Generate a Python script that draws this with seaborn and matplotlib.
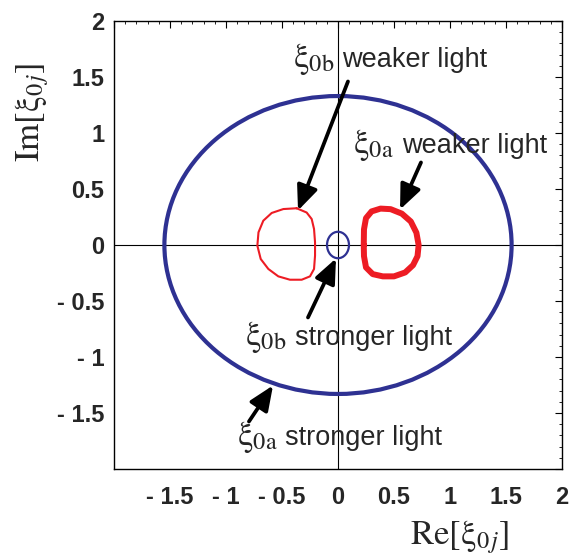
import matplotlib
matplotlib.use("Agg")
import matplotlib.pyplot as plt
from matplotlib.patches import Ellipse
from matplotlib.ticker import MultipleLocator
import pandas as pd
import seaborn as sns

# thin red contour (xi_0b, weaker light)
left_re = [-0.369, -0.28, -0.235, -0.214, -0.205, -0.205, -0.214, -0.25, -0.324,
           -0.429, -0.533, -0.622, -0.69, -0.72, -0.71, -0.667, -0.592, -0.488, -0.369]
left_im = [0.328, 0.29, 0.232, 0.143, 0.024, -0.095, -0.214, -0.28, -0.31,
           -0.31, -0.28, -0.214, -0.125, -0.006, 0.113, 0.217, 0.286, 0.321, 0.328]

# thick red contour (xi_0a, weaker light)
right_re = [0.23, 0.232, 0.25, 0.30, 0.38, 0.47, 0.57, 0.65, 0.70, 0.72,
            0.71, 0.67, 0.60, 0.50, 0.40, 0.31, 0.25, 0.232, 0.23]
right_im = [0.0, 0.14, 0.24, 0.30, 0.325, 0.32, 0.28, 0.21, 0.11, 0.0,
            -0.10, -0.18, -0.245, -0.28, -0.28, -0.26, -0.20, -0.10, 0.0]

# blue contours (stronger light) are ellipses around the origin: semi-axes
outer_semi = (1.55, 1.33)
inner_semi = (0.098, 0.118)

tick_vals = [-2, -1.5, -1, -0.5, 0, 0.5, 1, 1.5, 2]
tick_labels = ['', '- 1.5', '- 1', '- 0.5', '0', '0.5', '1', '1.5', '2']

BLUE = '#2E3192'
RED = '#ED1C24'

sns.set_style('white')
plt.rcParams['font.family'] = ['Liberation Sans', 'DejaVu Sans']
plt.rcParams['mathtext.fontset'] = 'stix'

fig = plt.figure(figsize=(5.71, 5.56), dpi=100)
ax = fig.add_axes([114 / 571, 87 / 556, 448 / 571, 448 / 556])

# coordinate axes
ax.axhline(0, color='black', lw=0.8, zorder=1)
ax.axvline(0, color='black', lw=0.8, zorder=1)

ax.add_patch(Ellipse((0, 0), 2 * outer_semi[0], 2 * outer_semi[1],
                     fill=False, ec=BLUE, lw=3.0, zorder=3))
ax.add_patch(Ellipse((0, 0), 2 * inner_semi[0], 2 * inner_semi[1],
                     fill=False, ec=BLUE, lw=1.6, zorder=3))

left_df = pd.DataFrame({'re': left_re, 'im': left_im})
right_df = pd.DataFrame({'re': right_re, 'im': right_im})
sns.lineplot(data=left_df, x='re', y='im', sort=False, estimator=None,
             color=RED, lw=1.5, solid_joinstyle='round', ax=ax, zorder=3)
sns.lineplot(data=right_df, x='re', y='im', sort=False, estimator=None,
             color=RED, lw=4.3, solid_joinstyle='round', ax=ax, zorder=3)

# annotations: symbol, symbol pos, text, text pos, arrow start, arrow tip
arrow_kw = dict(arrowstyle='-|>,head_length=0.75,head_width=0.32', lw=2.7,
                color='black', shrinkA=0, shrinkB=0, mutation_scale=20)
notes = [
    (r'$\mathrm{\xi_{0b}}$', (-0.40, 1.585), 'weaker light', (0.036, 1.585),
     (0.089, 1.46), (-0.357, 0.308)),
    (r'$\mathrm{\xi_{0a}}$', (0.134, 0.817), 'weaker light', (0.571, 0.817),
     (0.741, 0.737), (0.554, 0.317)),
    (r'$\mathrm{\xi_{0b}}$', (-0.83, -0.897), 'stronger light', (-0.384, -0.897),
     (-0.268, -0.647), (-0.018, -0.12)),
    (r'$\mathrm{\xi_{0a}}$', (-0.905, -1.79), 'stronger light', (-0.473, -1.79),
     (-0.795, -1.576), (-0.58, -1.254)),
]
for sym, spos, txt, tpos, start, tip in notes:
    ax.text(spos[0], spos[1], sym, fontsize=25, ha='left', va='baseline', zorder=5)
    ax.text(tpos[0], tpos[1], txt, fontsize=19.5, ha='left', va='baseline', zorder=5)
    ax.annotate('', xy=tip, xytext=start, arrowprops=arrow_kw, zorder=4)

ax.set_xlim(-2, 2)
ax.set_ylim(-2, 2)
ax.set_xticks(tick_vals, labels=tick_labels)
ax.set_yticks(tick_vals, labels=tick_labels)
ax.xaxis.set_minor_locator(MultipleLocator(0.1))
ax.yaxis.set_minor_locator(MultipleLocator(0.1))
ax.tick_params(which='both', direction='in', top=True, right=True, color='black')
ax.tick_params(which='major', length=5, width=0.8)
ax.tick_params(which='minor', length=2.5, width=0.6)
ax.tick_params(axis='x', which='major', pad=12, labelsize=17)
ax.tick_params(axis='y', which='major', pad=7, labelsize=17)
for lab in ax.get_xticklabels() + ax.get_yticklabels():
    lab.set_fontweight('bold')
for sp in ax.spines.values():
    sp.set_color('black')
    sp.set_linewidth(1.0)
ax.set_xlabel('')
ax.set_ylabel('')

fig.text(460 / 571, 1 - 537 / 556, r'$\mathrm{Re[\xi_{0}}_{j}\mathrm{]}$', fontsize=25,
         ha='center', va='center')
fig.text(32 / 571, 1 - 112 / 556, r'$\mathrm{Im[\xi_{0}}_{j}\mathrm{]}$', fontsize=25,
         ha='center', va='center', rotation=90)

fig.savefig('out.png', dpi=100)
